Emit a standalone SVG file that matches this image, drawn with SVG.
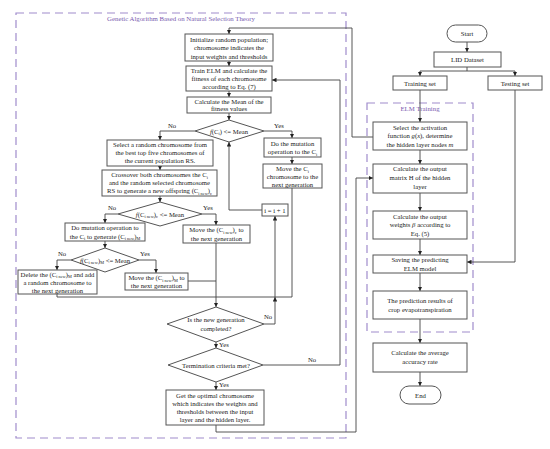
<svg xmlns="http://www.w3.org/2000/svg" width="550" height="449" viewBox="0 0 550 449">
<style>
.bg{fill:#fff}
.box{fill:#fff;stroke:#555;stroke-width:1}
.t{font-family:"Liberation Serif","Times New Roman",serif;font-size:6.7px;fill:#222;text-anchor:middle}
.lb{font-family:"Liberation Serif","Times New Roman",serif;font-size:6.7px;fill:#222}
.s{font-size:4.3px}
.ln{fill:none;stroke:#444;stroke-width:0.9}
.pd{fill:none;stroke:#a08ccc;stroke-width:1.2;stroke-dasharray:8 5}
.pt{font-family:"Liberation Serif","Times New Roman",serif;font-size:6.8px;fill:#7a5cb0;text-anchor:middle}
</style>
<defs>
<marker id="a" viewBox="0 0 8 8" refX="8" refY="4" markerWidth="4.5" markerHeight="4.5" orient="auto" markerUnits="userSpaceOnUse">
<path d="M0,0 L8,4 L0,8 z" fill="#222"/>
</marker>
</defs>
<rect class="bg" x="0" y="0" width="550" height="449"/>

<g id="containers">
<rect class="pd" x="16" y="13" width="330" height="425"/>
<text class="pt" x="181" y="21">Genetic Algorithm Based on Natural Selection Theory</text>
<rect class="pd" x="367" y="103" width="106" height="229"/>
<text class="pt" x="420" y="110.5">ELM Training</text>
</g>

<g id="connectors">
<path class="ln" d="M229,61 V66" marker-end="url(#a)"/>
<path class="ln" d="M229,91 V97" marker-end="url(#a)"/>
<path class="ln" d="M229,113 V120" marker-end="url(#a)"/>
<path class="ln" d="M195,131 H160 V140" marker-end="url(#a)"/>
<path class="ln" d="M160,166 V170" marker-end="url(#a)"/>
<path class="ln" d="M160,196 V202" marker-end="url(#a)"/>
<path class="ln" d="M118,214 H105 V223" marker-end="url(#a)"/>
<path class="ln" d="M202,214 H216 V225" marker-end="url(#a)"/>
<path class="ln" d="M105,241 V248" marker-end="url(#a)"/>
<path class="ln" d="M71,260 H57 V270" marker-end="url(#a)"/>
<path class="ln" d="M139,260 H156 V273" marker-end="url(#a)"/>
<path class="ln" d="M216,243 V307" marker-end="url(#a)"/>
<path class="ln" d="M188,281 H216"/>
<path class="ln" d="M57,294 V297 H292 V188"/>
<path class="ln" d="M264,131 H292 V138" marker-end="url(#a)"/>
<path class="ln" d="M292,157 V164" marker-end="url(#a)"/>
<path class="ln" d="M264,324 H275 V297" marker-end="url(#a)"/>
<path class="ln" d="M275,297 V216" marker-end="url(#a)"/>
<path class="ln" d="M262,210 H229 V142" marker-end="url(#a)"/>
<path class="ln" d="M216,342 V348" marker-end="url(#a)"/>
<path class="ln" d="M263,365 H340 V80 H272" marker-end="url(#a)"/>
<path class="ln" d="M216,382 V390" marker-end="url(#a)"/>
<path class="ln" d="M216,425 V432 H356 V178 H373" marker-end="url(#a)"/>
<path class="ln" d="M373,137 H352 V28 H229 V34" marker-end="url(#a)"/>
<path class="ln" d="M467,42 V52" marker-end="url(#a)"/>
<path class="ln" d="M467,67 V71"/>
<path class="ln" d="M420,71 H515"/>
<path class="ln" d="M420,71 V76" marker-end="url(#a)"/>
<path class="ln" d="M515,71 V76" marker-end="url(#a)"/>
<path class="ln" d="M420,90 V122" marker-end="url(#a)"/>
<path class="ln" d="M515,90 V262 H467" marker-end="url(#a)"/>
<path class="ln" d="M420,150 V164" marker-end="url(#a)"/>
<path class="ln" d="M420,193 V211" marker-end="url(#a)"/>
<path class="ln" d="M420,239 V255" marker-end="url(#a)"/>
<path class="ln" d="M420,273 V291" marker-end="url(#a)"/>
<path class="ln" d="M420,319 V343" marker-end="url(#a)"/>
<path class="ln" d="M420,372 V386" marker-end="url(#a)"/>
<text class="lb" x="168" y="128">No</text>
<text class="lb" x="274" y="128">Yes</text>
<text class="lb" x="108" y="210">No</text>
<text class="lb" x="203" y="210">Yes</text>
<text class="lb" x="58" y="256">No</text>
<text class="lb" x="140" y="256">Yes</text>
<text class="lb" x="264" y="319">No</text>
<text class="lb" x="219" y="347">Yes</text>
<text class="lb" x="308" y="362">No</text>
<text class="lb" x="219" y="387">Yes</text>
</g>

<g id="n-init">
<rect class="box" x="185" y="34" width="88" height="27"/>
<text class="t" x="229" y="41.5">Initialize random population;</text>
<text class="t" x="229" y="50">chromosome indicates the</text>
<text class="t" x="229" y="58.5">input weights and thresholds</text>
</g>
<g id="n-train">
<rect class="box" x="186" y="66" width="86" height="25"/>
<text class="t" x="229" y="73">Train ELM and calculate the</text>
<text class="t" x="229" y="81">fitness of each chromosome</text>
<text class="t" x="229" y="89">according to Eq. (7)</text>
</g>
<g id="n-mean">
<rect class="box" x="187" y="97" width="84" height="16"/>
<text class="t" x="229" y="103.5">Calculate the Mean of the</text>
<text class="t" x="229" y="111">fitness values</text>
</g>
<g id="n-d1">
<polygon class="box" points="229,120 264,131 229,142 195,131"/>
<text class="t" x="229" y="133.5"><tspan font-style="italic">f</tspan>(C<tspan class="s" dy="1.5">i</tspan><tspan dy="-1.5">) &lt;= Mean</tspan></text>
</g>
<g id="n-select">
<rect class="box" x="107" y="140" width="106" height="26"/>
<text class="t" x="160" y="147">Select a random chromosome from</text>
<text class="t" x="160" y="155">the best top five chromosomes of</text>
<text class="t" x="160" y="163">the current population RS.</text>
</g>
<g id="n-cross">
<rect class="box" x="102" y="170" width="115" height="26"/>
<text class="t" x="159.5" y="177">Crossover both chromosomes the C<tspan class="s" dy="1.5">i</tspan></text>
<text class="t" x="159.5" y="185">and the random selected chromosome</text>
<text class="t" x="159.5" y="193">RS to generate a new offspring (C<tspan class="s" dy="1.5">i new</tspan><tspan dy="-1.5">)</tspan><tspan class="s" dy="1.5">c</tspan></text>
</g>
<g id="n-d2">
<polygon class="box" points="160,202 202,214 160,226 118,214"/>
<text class="t" x="160" y="216.5"><tspan font-style="italic">f</tspan>(C<tspan class="s" dy="1.5">i new</tspan><tspan dy="-1.5">)</tspan><tspan class="s" dy="1.5">c</tspan><tspan dy="-1.5"> &lt;= Mean</tspan></text>
</g>
<g id="n-mut2">
<rect class="box" x="65" y="223" width="80" height="18"/>
<text class="t" x="105" y="230">Do mutation operation to</text>
<text class="t" x="105" y="238.5">the  C<tspan class="s" dy="1.5">i</tspan><tspan dy="-1.5"> to generate (C</tspan><tspan class="s" dy="1.5">i new</tspan><tspan dy="-1.5">)</tspan><tspan class="s" dy="1.5">M</tspan></text>
</g>
<g id="n-movec">
<rect class="box" x="183" y="225" width="67" height="18"/>
<text class="t" x="216.5" y="232">Move the (C<tspan class="s" dy="1.5">i new</tspan><tspan dy="-1.5">)</tspan><tspan class="s" dy="1.5">c</tspan><tspan dy="-1.5"> to</tspan></text>
<text class="t" x="216.5" y="240.5">the next generation</text>
</g>
<g id="n-d3">
<polygon class="box" points="105,248 139,260 105,272 71,260"/>
<text class="t" x="105" y="262.5"><tspan font-style="italic">f</tspan>(C<tspan class="s" dy="1.5">i new</tspan><tspan dy="-1.5">)</tspan><tspan class="s" dy="1.5">M</tspan><tspan dy="-1.5"> &lt;= Mean</tspan></text>
</g>
<g id="n-delete">
<rect class="box" x="18" y="270" width="79" height="24"/>
<text class="t" x="57.5" y="276.5">Delete the (C<tspan class="s" dy="1.5">i new</tspan><tspan dy="-1.5">)</tspan><tspan class="s" dy="1.5">M</tspan><tspan dy="-1.5"> and add</tspan></text>
<text class="t" x="57.5" y="284.5">a random chromosome to</text>
<text class="t" x="57.5" y="292.5">the next generation</text>
</g>
<g id="n-movem">
<rect class="box" x="125" y="273" width="63" height="17"/>
<text class="t" x="156.5" y="280">Move the (C<tspan class="s" dy="1.5">i new</tspan><tspan dy="-1.5">)</tspan><tspan class="s" dy="1.5">M</tspan><tspan dy="-1.5"> to</tspan></text>
<text class="t" x="156.5" y="288">the next generation</text>
</g>
<g id="n-mut1">
<rect class="box" x="264" y="138" width="57" height="19"/>
<text class="t" x="292.5" y="145.5">Do the mutation</text>
<text class="t" x="292.5" y="154">operation to the C<tspan class="s" dy="1.5">i</tspan></text>
</g>
<g id="n-move1">
<rect class="box" x="263" y="164" width="59" height="24"/>
<text class="t" x="292.5" y="171">Move the C<tspan class="s" dy="1.5">i</tspan></text>
<text class="t" x="292.5" y="179">chromosome to the</text>
<text class="t" x="292.5" y="187">next generation</text>
</g>
<g id="n-inc">
<rect class="box" x="262" y="204" width="26" height="12"/>
<text class="t" x="275" y="212.5">i = i + 1</text>
</g>
<g id="n-d4">
<polygon class="box" points="216,307 264,324 216,342 167,324"/>
<text class="t" x="216" y="322">Is the new generation</text>
<text class="t" x="216" y="330.5">completed?</text>
</g>
<g id="n-d5">
<polygon class="box" points="216,348 263,365 216,382 168,365"/>
<text class="t" x="216" y="367.5">Termination criteria met?</text>
</g>
<g id="n-optimal">
<rect class="box" x="166" y="390" width="98" height="35"/>
<text class="t" x="215" y="398">Get the optimal chromosome</text>
<text class="t" x="215" y="406">which indicates the weights and</text>
<text class="t" x="215" y="414">thresholds between the input</text>
<text class="t" x="215" y="422">layer and the hidden layer.</text>
</g>

<g id="n-start">
<rect class="box" x="447" y="25" width="40" height="17" rx="8.5"/>
<text class="t" x="467" y="36">Start</text>
</g>
<g id="n-lid">
<rect class="box" x="434" y="52" width="67" height="15"/>
<text class="t" x="467.5" y="62">LID Dataset</text>
</g>
<g id="n-trainset">
<rect class="box" x="393" y="76" width="54" height="14"/>
<text class="t" x="420" y="85.5">Training set</text>
</g>
<g id="n-testset">
<rect class="box" x="488" y="76" width="54" height="14"/>
<text class="t" x="515" y="85.5">Testing set</text>
</g>
<g id="n-act">
<rect class="box" x="373" y="122" width="94" height="28"/>
<text class="t" x="420" y="129.5">Select the activation</text>
<text class="t" x="420" y="138">function <tspan font-style="italic">g</tspan>(<tspan font-style="italic">x</tspan>), determine</text>
<text class="t" x="420" y="146.5">the hidden layer nodes <tspan font-style="italic">m</tspan></text>
</g>
<g id="n-matrix">
<rect class="box" x="373" y="164" width="94" height="29"/>
<text class="t" x="420" y="171">Calculate the output</text>
<text class="t" x="420" y="180">matrix H of the hidden</text>
<text class="t" x="420" y="188.5">layer</text>
</g>
<g id="n-weights">
<rect class="box" x="373" y="211" width="94" height="28"/>
<text class="t" x="420" y="218.5">Calculate the output</text>
<text class="t" x="420" y="227">weights <tspan font-style="italic">β</tspan> according to</text>
<text class="t" x="420" y="235.5">Eq. (5)</text>
</g>
<g id="n-saving">
<rect class="box" x="373" y="255" width="94" height="18"/>
<text class="t" x="420" y="262">Saving the predicting</text>
<text class="t" x="420" y="270.5">ELM model</text>
</g>
<g id="n-pred">
<rect class="box" x="373" y="291" width="94" height="28"/>
<text class="t" x="420" y="302.5">The prediction results of</text>
<text class="t" x="420" y="311.5">crop evapotranspiration</text>
</g>
<g id="n-avg">
<rect class="box" x="373" y="343" width="94" height="29"/>
<text class="t" x="420" y="355">Calculate the average</text>
<text class="t" x="420" y="364">accuracy rate</text>
</g>
<g id="n-end">
<rect class="box" x="400" y="386" width="41" height="18" rx="9"/>
<text class="t" x="420.5" y="397.5">End</text>
</g>
</svg>
